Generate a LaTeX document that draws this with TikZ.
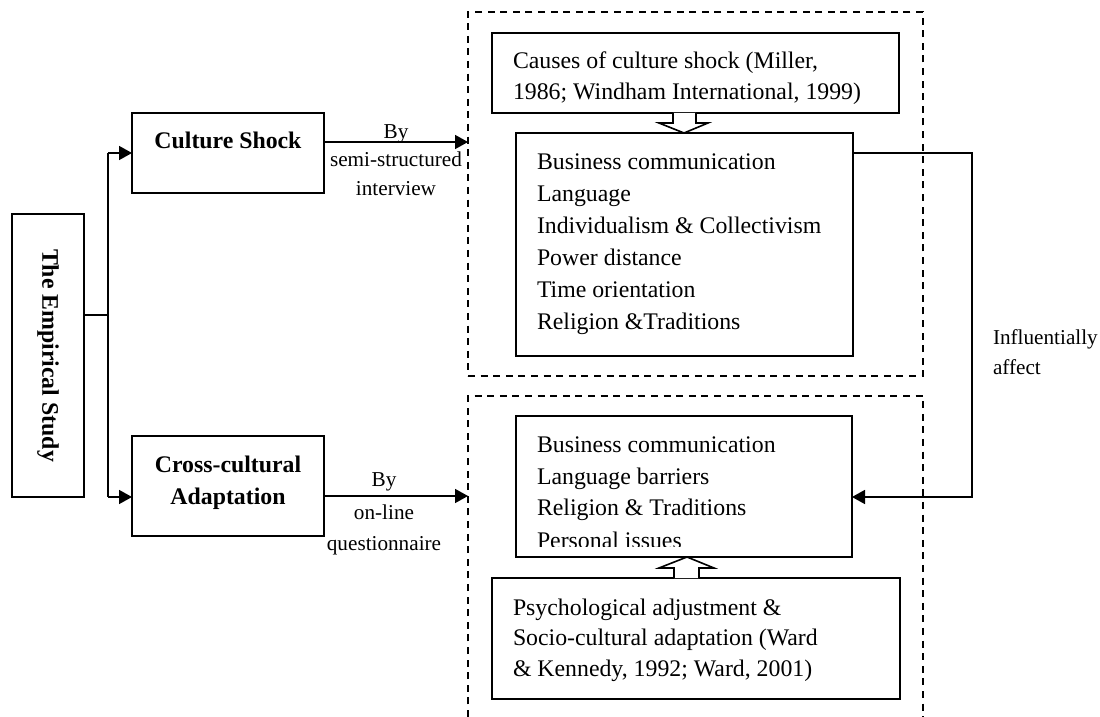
\documentclass[tikz,border=0pt]{standalone}
\usepackage{fontspec}
\setmainfont{Liberation Serif}
\usetikzlibrary{arrows.meta}
\begin{document}
\begin{tikzpicture}[x=0.5pt,y=-0.5pt,
  box/.style={draw,line width=1pt,inner sep=0pt,outer sep=0pt,fill=white},
  grp/.style={draw,line width=0.9pt,dash pattern=on 3.5pt off 2.8pt,inner sep=0pt,outer sep=0pt},
  conn/.style={line width=0.8pt},
  arr/.style={conn,-{Triangle[length=6.5pt,width=7pt]}},
  txt/.style={inner sep=0pt,outer sep=0pt,anchor=base west,font=\fontsize{11.9}{16}\selectfont},
  btxt/.style={inner sep=0pt,outer sep=0pt,anchor=base,font=\bfseries\fontsize{11.9}{16}\selectfont},
  lbl/.style={inner sep=0pt,outer sep=0pt,anchor=base,font=\fontsize{10.6}{15}\selectfont},
  hollow/.style={draw,line width=0.8pt,fill=white,line join=miter}]
\useasboundingbox (0,0) rectangle (1100,717);

% dashed groups
\node[grp,minimum width=227.5pt,minimum height=182pt] (g1) at (695.5,194) {};
\coordinate (g2a) at (468,717);
\coordinate (g2b) at (468,396);
\coordinate (g2c) at (923,396);
\coordinate (g2d) at (923,717);
\draw[grp] (g2a) -- (g2b) -- (g2c) -- (g2d);

% boxes
\node[box,minimum width=36pt,minimum height=141.5pt] (emp) at (48,355.5) {};
\node[box,minimum width=96pt,minimum height=40pt] (cs) at (228,153) {};
\node[box,minimum width=96pt,minimum height=50pt] (cc) at (228,486) {};
\node[box,minimum width=203.5pt,minimum height=40pt] (causes) at (695.5,73) {};
\node[box,minimum width=168.5pt,minimum height=111.5pt] (bus1) at (684.5,244.5) {};
\node[box,minimum width=168pt,minimum height=70.5pt] (bus2) at (684,486.5) {};
\node[box,minimum width=204pt,minimum height=60.5pt] (psy) at (696,638.5) {};

% connectors
\coordinate (jm) at (108,315);
\coordinate (jt) at (108,153);
\coordinate (jb) at (108,497);
\draw[conn] (emp.east |- jm) -- (jm);
\draw[conn] (jt) -- (jb);
\draw[arr] (jt) -- (cs.west |- jt);
\draw[arr] (jb) -- (cc.west |- jb);
\coordinate (a1) at (0,142);
\coordinate (a2) at (468,496);
\draw[arr] (cs.east |- a1) -- (g1.west |- a1);
\draw[arr] (cc.east |- a2) -- (a2);
\coordinate (r1) at (972,153);
\coordinate (r2) at (972,497);
\draw[arr] (bus1.east |- r1) -- (r1) -- (r2) -- (bus2.east |- r2);

% hollow arrows
\draw[hollow] (673,113) -- (673,123) -- (659,123) -- (684,133) -- (708,123) -- (696,123) -- (696,113);
\draw[hollow] (674,578) -- (674,568) -- (659,568) -- (687,557) -- (714,568) -- (699,568) -- (699,578);

% texts
\node[btxt,rotate=-90,anchor=center] (temp) at (48,355.5) {The Empirical Study};
\node[btxt] (tcs) at (228,149) {Culture Shock};
\node[btxt] (tcc1) at (228,473) {Cross-cultural};
\node[btxt] (tcc2) at (228,504) {Adaptation};

\node[txt] (tcauses) at (513,69) {\parbox[t]{220pt}{\baselineskip=15.5pt Causes of culture shock (Miller,\\1986; Windham International, 1999)}};
\node[txt] (tbus1) at (537,170) {\parbox[t]{160pt}{\baselineskip=16pt Business communication\\Language\\Individualism \& Collectivism\\Power distance\\Time orientation\\Religion \&Traditions}};
\begin{scope}
\clip (516,416) rectangle (852,546);
\node[txt] (tbus2) at (537,452) {\parbox[t]{160pt}{\baselineskip=16pt Business communication\\Language barriers\\Religion \& Traditions\\Personal issues}};
\end{scope}
\node[txt] (tpsy) at (513,615) {\parbox[t]{220pt}{\baselineskip=15.5pt Psychological adjustment \&\\Socio-cultural adaptation (Ward\\\& Kennedy, 1992; Ward, 2001)}};

\node[lbl] (l1) at (396,139) {By};
\node[lbl] (l2) at (396,167) {semi-structured};
\node[lbl] (l3) at (396,196) {interview};
\node[lbl] (l4) at (384,487) {By};
\node[lbl] (l5) at (384,519) {on-line};
\node[lbl] (l6) at (384,551) {questionnaire};
\node[lbl,anchor=base west] (l7) at (993,345) {Influentially};
\node[lbl,anchor=base west] (l8) at (993,375) {affect};
\end{tikzpicture}
\end{document}
